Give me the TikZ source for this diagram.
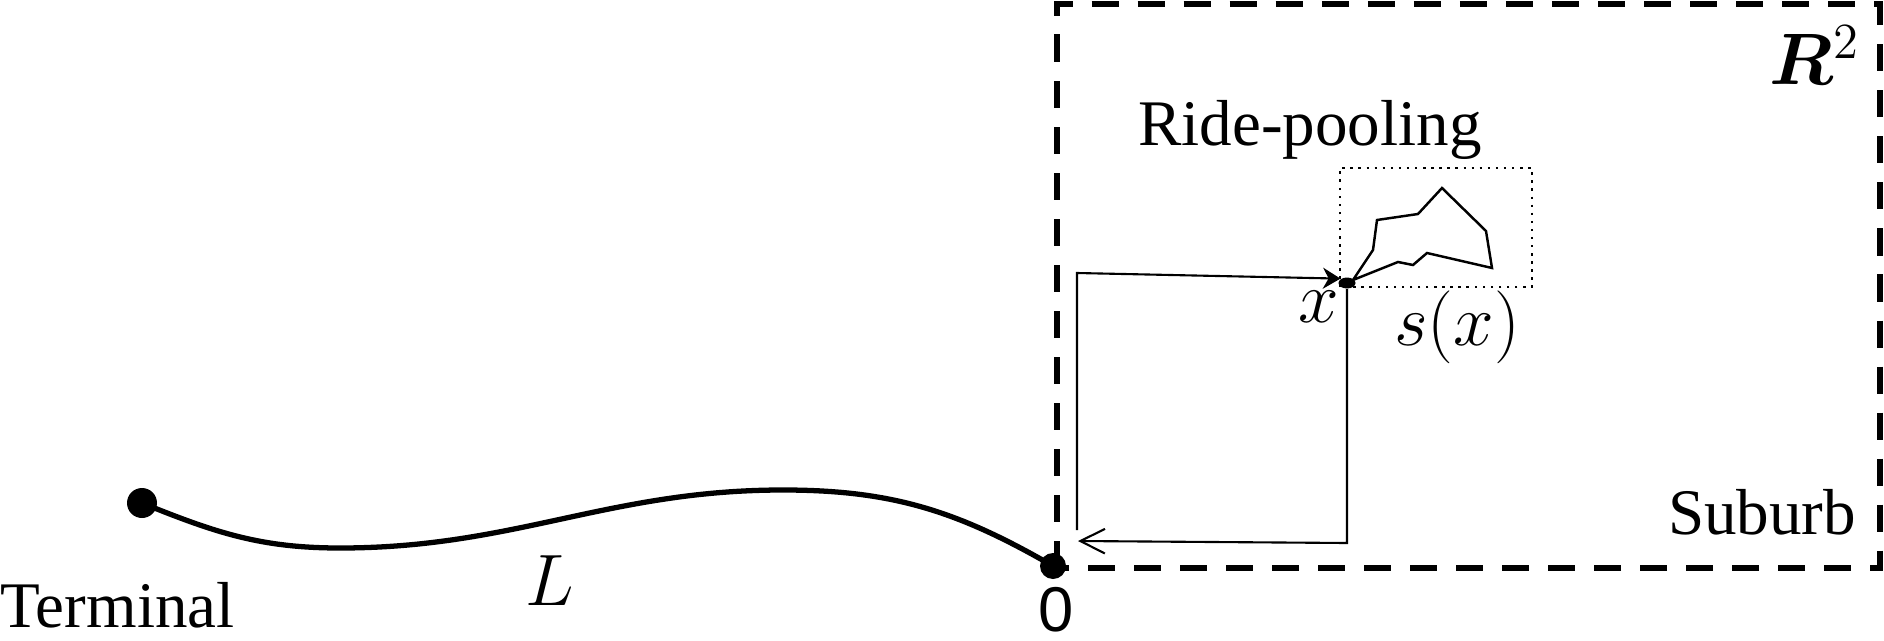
\documentclass[tikz,border=0pt]{standalone}
\usepackage{fontspec}
\setmainfont{Liberation Serif}
\newfontfamily\digitfont{Liberation Sans}
\usepackage{amsmath}
\usepackage{bm}
\usepackage{tikz}
\usetikzlibrary{arrows.meta,positioning,shapes.geometric}
\newcommand{\lbl}{\fontsize{18.5}{22}\selectfont}

\begin{document}
\begin{tikzpicture}[
        dot/.style = {circle, fill, inner sep = 0pt, minimum size = #1},
        region/.style = {line width = 1.7pt, dash pattern = on 7.7pt off 5.4pt},
        route/.style = {line width = 0.6pt},
        txt/.style = {font = \lbl, inner sep = 0pt}
    ]
    \useasboundingbox (0,0) rectangle (18.84,6.40);
    % suburb region
    \draw[region] (10.57,0.72) rectangle (18.80,6.36);
    \node[txt, anchor = base] (sub) at (17.62,1.06) {Suburb};
    \node[txt, font = \fontsize{21}{25}\selectfont] (rr) at (18.15,5.85) {$\bm{R}^2$};
    % terminal and line haul
    \node[dot = 0.30cm] (term) at (1.42,1.37) {};
    \node[dot = 0.26cm] (orig) at (10.53,0.74) {};
    \coordinate (low) at (3.40,0.92);
    \coordinate (peak) at (7.83,1.50);
    \draw[line width = 1.5pt] (term.center) to[out = -22, in = 180] (low)
        to[out = 0, in = 180] (peak) to[out = 0, in = 150] (orig.center);
    \node[txt, anchor = base west] (tname) at (0,0.13) {Terminal};
    \node[txt, font = \fontsize{20}{24}\selectfont] (len) at (5.50,0.59) {$L$};
    \node[txt, font = \fontsize{18}{22}\selectfont\digitfont, anchor = base] (zero) at (10.56,0.09) {0};
    % tour to x and back
    \node[ellipse, fill, inner sep = 0pt, minimum width = 0.17cm, minimum height = 0.11cm] (xpt) at (13.47,3.57) {};
    \coordinate (r1) at (10.77,1.10);
    \coordinate (r2) at (10.77,3.67);
    \coordinate (r3) at (13.47,0.97);
    \coordinate (r4) at (10.78,0.99);
    \draw[route, -{Stealth[length = 5pt, width = 6pt]}] (r1) -- (r2) -- (xpt.north west);
    \draw[route, -{Straight Barb[length = 7pt, width = 7pt]}] (xpt.south) -- (r3) -- (r4);
    \node[txt, font = \fontsize{21}{25}\selectfont] (xl) at (13.19,3.33) {$x$};
    \node[txt, font = \fontsize{20}{24}\selectfont] (sx) at (14.57,3.13) {$s(x)$};
    % ride-pooling service area
    \draw[line width = 0.6pt, dash pattern = on 0.7pt off 1.6pt] (13.40,3.53) rectangle (15.32,4.72);
    \draw[line width = 0.7pt, line join = miter] (13.53,3.60) -- (13.73,3.90) -- (13.77,4.20) -- (14.18,4.26)
        -- (14.42,4.52) -- (14.86,4.09) -- (14.92,3.72) -- (14.27,3.87) -- (14.13,3.75)
        -- (13.98,3.78) -- cycle;
    \node[txt, anchor = base] (rp) at (13.10,4.95) {Ride-pooling};
\end{tikzpicture}
\end{document}
